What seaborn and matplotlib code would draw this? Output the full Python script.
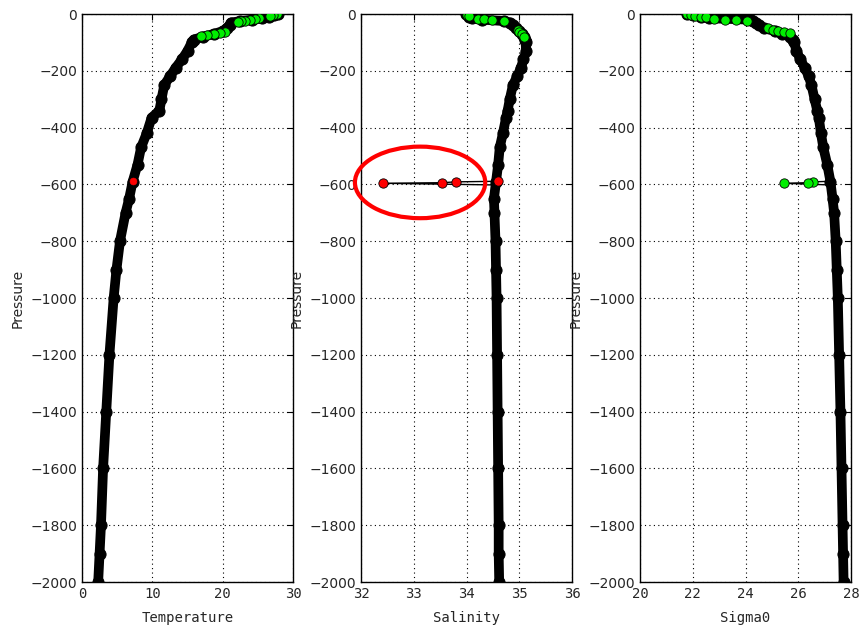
import numpy as np
import pandas as pd
import seaborn as sns
import matplotlib.pyplot as plt
from matplotlib.patches import Ellipse

# profile
pressure = [0, -5, -10, -15, -20, -25, -30, -40, -50, -60, -70, -80, -90, -100,
            -130, -160, -190, -220, -250, -300, -340, -365, -420, -470, -530,
            -590, -650, -700, -800, -900, -1000, -1200, -1400, -1600, -1800,
            -1900, -2000]
temperature = [27.8, 27.3, 26.6, 25.6, 24.2, 22.5, 21.2, 21.0, 20.6, 20.0, 18.8,
               17.2, 15.9, 15.6, 15.0, 14.2, 13.3, 12.5, 11.7, 11.3, 11.0, 9.9,
               9.2, 8.4, 7.9, 7.2, 6.7, 6.2, 5.4, 4.9, 4.5, 3.9, 3.45, 3.0, 2.7,
               2.5, 2.3]
salinity = [33.99, 34.02, 34.05, 34.1, 34.3, 34.72, 34.82, 34.88, 34.94, 35.0,
            35.05, 35.09, 35.11, 35.12, 35.13, 35.08, 35.03, 34.96, 34.88, 34.82,
            34.78, 34.75, 34.69, 34.63, 34.6, 34.56, 34.52, 34.53, 34.55, 34.56,
            34.57, 34.58, 34.59, 34.6, 34.61, 34.61, 34.62]
sigma0 = [21.8, 22.0, 22.3, 22.6, 24.2, 24.3, 24.4, 24.5, 24.7, 25.1, 25.4, 25.7,
          25.8, 25.85, 25.93, 26.08, 26.25, 26.4, 26.5, 26.62, 26.72, 26.78,
          26.86, 26.95, 27.1, 27.22, 27.3, 27.36, 27.42, 27.46, 27.5, 27.55,
          27.6, 27.64, 27.68, 27.7, 27.72]

# spike near 600 dbar
spike_p = [-589, -591, -594, -596, -602]
spike_temp = [7.26, 7.22, 7.2, 7.2, 7.15]
spike_sal = [34.60, 33.81, 33.53, 32.41, 34.56]
spike_sig = [27.25, 26.55, 26.36, 25.47, 27.22]

# flagged points (green)
temp_green_p = [0, -3, -6, -14, -17, -20, -23, -26, -28, -62, -66, -70, -74, -78]
temp_green = [27.7, 27.2, 26.8, 25.2, 24.6, 23.9, 23.2, 22.6, 22.2, 20.4, 19.6, 18.8, 17.8, 16.9]
sal_green_p = [-3, -8, -18, -19, -20, -24, -55, -62, -70, -80]
sal_green = [34.0, 34.05, 34.21, 34.34, 34.48, 34.72, 34.97, 35.0, 35.05, 35.09]
sig_green_p = [0, -3, -6, -9, -12, -19, -20, -21, -24, -50, -55, -60, -64, -68]
sig_green = [21.8, 21.95, 22.1, 22.3, 22.49, 22.8, 23.23, 23.63, 24.04, 24.84, 25.05, 25.25, 25.45, 25.67]

df = pd.DataFrame({"Pressure": pressure, "Temperature": temperature,
                   "Salinity": salinity, "Sigma0": sigma0})
spike = pd.DataFrame({"Pressure": spike_p, "Temperature": spike_temp,
                      "Salinity": spike_sal, "Sigma0": spike_sig})

sns.set_style("white")
plt.rcParams["font.family"] = ["DejaVu Sans"]

fig = plt.figure(figsize=(8.61, 6.34), dpi=100)
lefts = [82 / 861, 361 / 861, 640 / 861]
w = 211 / 861
bottom, h = 1 - 582 / 634, 568 / 634

panels = [
    ("Temperature", (0, 30), np.arange(0, 31, 10), temp_green_p, temp_green),
    ("Salinity", (32, 36), np.arange(32, 37, 1), sal_green_p, sal_green),
    ("Sigma0", (20, 28), np.arange(20, 29, 2), sig_green_p, sig_green),
]

for i, (var, xlim, xticks, gp, gv) in enumerate(panels):
    ax = fig.add_axes([lefts[i], bottom, w, h])
    sns.lineplot(data=df, x=var, y="Pressure", sort=False, estimator=None,
                 color="black", lw=7, marker="o", ms=8, mec="black",
                 solid_capstyle="round", ax=ax, zorder=3)
    # thin line of the spike
    sns.lineplot(data=spike, x=var, y="Pressure", sort=False, estimator=None,
                 color="black", lw=1, ax=ax, zorder=4)
    sns.scatterplot(x=gv, y=gp, color="#00ee00", edgecolor="black", s=45,
                    linewidth=0.6, ax=ax, zorder=5)
    if var == "Temperature":
        sns.scatterplot(x=spike_temp[:1], y=spike_p[:1], color="red",
                        edgecolor="red", s=25, ax=ax, zorder=6)
    elif var == "Salinity":
        sns.scatterplot(x=spike_sal[:4], y=spike_p[:4], color="red",
                        edgecolor="black", s=45, linewidth=0.6, ax=ax, zorder=6)
        ax.add_patch(Ellipse((33.12, -593), 2.47, 252, fill=False,
                             ec="red", lw=3, clip_on=False, zorder=7))
    else:
        sns.scatterplot(x=spike_sig[1:4], y=spike_p[1:4], color="#00ee00",
                        edgecolor="black", s=45, linewidth=0.6, ax=ax, zorder=6)

    ax.set_xlim(*xlim)
    ax.set_ylim(-2000, 0)
    ax.set_xticks(xticks)
    ax.set_yticks(np.arange(-2000, 1, 200))
    ax.grid(True, ls=(0, (1, 3)), color="black", lw=0.8)
    ax.tick_params(direction="in", top=True, right=True, length=4,
                   labelsize=10, color="black")
    for lab in ax.get_xticklabels():
        lab.set_family("DejaVu Sans Mono")
    for s in ax.spines.values():
        s.set_color("black")
        s.set_linewidth(1)
    ax.set_xlabel(var, family="DejaVu Sans Mono", fontsize=10, labelpad=7)
    ax.set_ylabel("Pressure", fontsize=10)

fig.savefig("out.png", dpi=100, facecolor="white")
